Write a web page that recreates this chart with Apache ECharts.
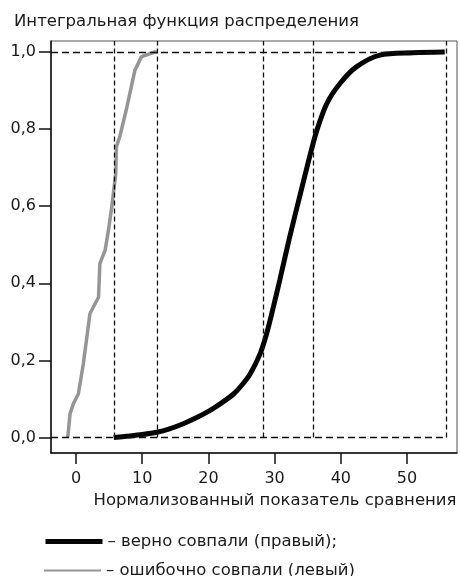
<!DOCTYPE html>
<html>
<head>
<meta charset="utf-8">
<script src="https://cdn.jsdelivr.net/npm/echarts@6/dist/echarts.min.js"></script>
<style>
html,body{margin:0;padding:0;background:#fff;}
#chart{width:460px;height:576px;}
</style>
</head>
<body>
<div id="chart"></div>
<script>
// Data
const titleText = 'Интегральная функция распределения';
const xAxisName = 'Нормализованный показатель сравнения';
const xTicks = [0, 10, 20, 30, 40, 50];
const yTicks = [0, 0.2, 0.4, 0.6, 0.8, 1.0];
const xRange = [-3.78, 57.55];
const yRange = [-0.04, 1.0285];

const trueName = 'верно совпали (правый)';
const falseName = 'ошибочно совпали (левый)';

// "верно совпали (правый)" - black curve
const trueX = [5.7, 8, 10, 12.2, 14, 16.2, 18, 20.2, 22, 23.8, 25, 26.3, 27.8, 28.8, 29.8, 30.8, 32.3, 33.8, 35.3, 36.4, 37.9, 39.9, 42.4, 45.9, 50.9, 55.7];
const trueY = [0, 0.004, 0.008, 0.014, 0.022, 0.036, 0.05, 0.07, 0.09, 0.113, 0.135, 0.165, 0.217, 0.27, 0.338, 0.41, 0.522, 0.626, 0.729, 0.798, 0.867, 0.919, 0.962, 0.992, 0.998, 1.0];

// "ошибочно совпали (левый)" - grey curve
const falseX = [-1.25, -0.9, -0.4, 0.35, 1.1, 2.1, 2.6, 3.4, 3.6, 4.4, 4.9, 5.4, 6.0, 6.1, 6.6, 7.7, 8.9, 9.9, 11.9, 12.3];
const falseY = [0, 0.062, 0.088, 0.113, 0.191, 0.321, 0.338, 0.364, 0.451, 0.486, 0.538, 0.598, 0.685, 0.754, 0.78, 0.858, 0.953, 0.988, 1.0, 1.0];

// Dashed reference lines
const vLineX = [5.8, 12.3, 28.3, 35.9, 55.9];
const hLineY = [0, 1];
const hLineEndX = 55.9;

const pairs = (xs, ys) => xs.map((x, i) => [x, ys[i]]);

const markData = [];
hLineY.forEach(y => markData.push([
  {coord: [xRange[0], y], lineStyle: {type: [7, 4]}},
  {coord: [hLineEndX, y]}
]));
vLineX.forEach(x => markData.push([
  {coord: [x, 0], lineStyle: {type: [5, 3]}},
  {coord: [x, yRange[1]]}
]));

const FONT = 'DejaVu Sans';
const TXT = '#1a1a1a';
const legendBase = {
  orient: 'vertical',
  left: 38,
  itemWidth: 57, itemHeight: 16,
  itemStyle: {opacity: 0},
  textStyle: {fontFamily: FONT, fontSize: 16.5, color: TXT},
  formatter: name => name === trueName ? '– ' + name + ';' : '– ' + name
};

const chart = echarts.init(document.getElementById('chart'), null, {renderer: 'canvas'});
chart.setOption({
  animation: false,
  backgroundColor: '#fff',
  textStyle: {fontFamily: FONT},
  title: {
    text: titleText,
    left: 9, top: 8,
    textStyle: {fontFamily: FONT, fontSize: 16.5, fontWeight: 'normal', color: TXT}
  },
  grid: {
    left: 51, right: 3, top: 41, bottom: 123,
    show: true, borderColor: '#555', borderWidth: 1
  },
  xAxis: {
    type: 'value',
    min: xRange[0], max: xRange[1],
    name: xAxisName,
    nameLocation: 'middle',
    nameGap: 38,
    nameTextStyle: {fontFamily: FONT, fontSize: 16.5, color: TXT, padding: [0, 0, 0, 42]},
    axisLine: {show: true, onZero: false, lineStyle: {color: '#111', width: 1.5}},
    axisTick: {show: true, inside: false, length: 11, customValues: xTicks, lineStyle: {color: '#111', width: 1.5}},
    axisLabel: {customValues: xTicks, fontFamily: FONT, fontSize: 16, color: TXT, margin: 18},
    splitLine: {show: false}
  },
  yAxis: {
    type: 'value',
    min: yRange[0], max: yRange[1],
    axisLine: {show: true, onZero: false, lineStyle: {color: '#111', width: 1.5}},
    axisTick: {show: true, inside: false, length: 12, customValues: yTicks, lineStyle: {color: '#111', width: 1.5}},
    axisLabel: {
      customValues: yTicks, fontFamily: FONT, fontSize: 16, color: TXT, margin: 15,
      formatter: v => v.toFixed(1).replace('.', ',')
    },
    splitLine: {show: false}
  },
  legend: [
    Object.assign({}, legendBase, {
      top: 528,
      data: [{name: trueName, lineStyle: {width: 5}}]
    }),
    Object.assign({}, legendBase, {
      top: 557,
      data: [{name: falseName, lineStyle: {width: 2}}]
    })
  ],
  series: [
    {
      name: falseName,
      type: 'line',
      data: pairs(falseX, falseY),
      showSymbol: false,
      symbol: 'none',
      lineStyle: {color: '#959595', width: 3.5},
      itemStyle: {color: '#959595'},
      z: 3
    },
    {
      name: trueName,
      type: 'line',
      data: pairs(trueX, trueY),
      showSymbol: false,
      symbol: 'none',
      smooth: 0.3,
      lineStyle: {color: '#050505', width: 5},
      itemStyle: {color: '#050505'},
      z: 4,
      markLine: {
        silent: true,
        symbol: 'none',
        label: {show: false},
        emphasis: {disabled: true},
        lineStyle: {color: '#111', width: 1.3},
        data: markData
      }
    }
  ]
});
</script>
</body>
</html>
